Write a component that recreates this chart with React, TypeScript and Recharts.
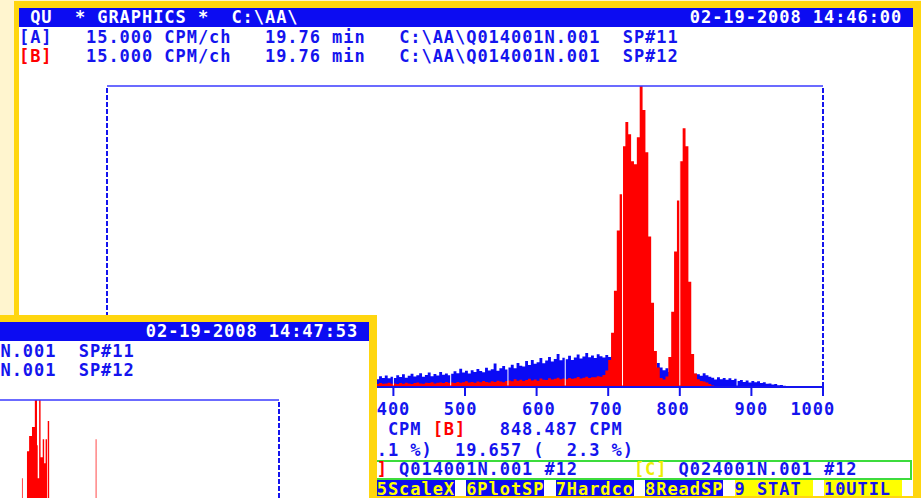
import React from "react";
import { ComposedChart, Area, XAxis, YAxis, ReferenceLine } from "recharts";

const W = 921;
const H = 498;

// DOS text grid (80 columns) starting at the window's inner left edge
const GRID_X = 19;
const CHAR_W = 11.18;
const FONT = '"DejaVu Sans Mono", "Liberation Mono", monospace';
const FONT_SIZE = 17;
const LETTER_SP = CHAR_W - FONT_SIZE * 0.602;

const PLOT_LEFT = 107;
const PLOT_RIGHT = 823;
const PLOT_TOP = 86;
const PLOT_BOTTOM = 387;
const AXIS_H = 30;

const BLUE = "#1414EE";
const PLOT_BLUE = "#0A0AF5";
const TITLE_BLUE = "#0C0CF2";
const RED = "#FF0000";
const GOLD = "#FFD60F";
const CREAM = "#FFF5CF";
const YELLOW = "#FFFF00";
const GREEN = "#3CDC3C";

// main spectra, % of full scale, bins of 4 channels from channel 360
const BIN_START = 360;
const BIN_WIDTH = 4;

const COUNTS_A = [
  3.0, 3.4, 2.7, 3.2, 2.6, 3.6, 3.0, 3.8, 2.9, 3.4, // 360
  3.0, 3.9, 3.3, 4.2, 3.1, 3.7, 4.4, 3.5, 3.9, 4.6, // 400
  3.4, 4.0, 4.8, 3.6, 4.3, 3.8, 5.0, 4.1, 4.5, 3.9, // 440
  4.4, 5.2, 4.6, 6.1, 4.8, 5.4, 4.5, 5.6, 5.0, 6.0, // 480
  5.3, 4.9, 6.4, 5.5, 5.9, 7.8, 5.4, 6.2, 7.0, 5.8, // 520
  6.5, 7.4, 6.2, 8.0, 7.1, 6.8, 8.6, 7.3, 9.0, 7.7, // 560
  8.2, 9.6, 7.9, 8.8, 10.0, 8.5, 9.3, 11.0, 8.9, 9.7, // 600
  9.2, 10.4, 9.0, 9.8, 10.8, 9.5, 10.1, 11.3, 9.9, 10.5, // 640
  9.6, 10.9, 10.2, 9.8, 10.6, 10.0, 10.3, 9.7, 10.0, 9.5, // 680
  9.2, 9.0, 8.8, 8.5, 8.4, 8.0, 7.8, 7.5, 7.2, 7.0, // 720
  6.6, 6.0, 8.0, 6.5, 5.6, 6.2, 5.0, 5.2, 5.0, 4.9, // 760
  5.0, 4.8, 4.8, 4.6, 4.5, 4.4, 4.2, 3.7, 4.6, 3.9, // 800
  3.4, 3.1, 2.5, 3.2, 2.6, 3.0, 2.4, 2.9, 2.3, 2.7, // 840
  2.0, 2.3, 1.7, 2.2, 1.5, 2.0, 1.6, 1.9, 1.3, 1.6, // 880
  1.1, 1.2, 0.8, 1.0, 0.6, 0.7, 0.4, 0, 0, 0, // 920
  0, 0, 0, 0, 0, 0, 0, 0, 0, 0, // 960
];

const COUNTS_B = [
  1.1, 1.3, 1.0, 1.2, 1.0, 1.3, 1.1, 1.2, 1.4, 1.1, // 360
  1.2, 1.0, 1.3, 1.1, 1.4, 1.2, 1.0, 1.3, 1.5, 1.2, // 400
  1.1, 1.4, 1.3, 1.6, 1.2, 1.4, 1.5, 1.3, 1.7, 1.4, // 440
  1.5, 1.3, 1.7, 1.4, 1.6, 1.9, 1.5, 1.7, 1.4, 1.8, // 480
  1.6, 2.0, 1.7, 1.5, 1.9, 1.7, 2.1, 1.8, 1.6, 2.0, // 520
  2.2, 1.9, 2.6, 2.1, 2.4, 2.0, 2.3, 2.7, 2.2, 2.5, // 560
  2.1, 2.8, 2.4, 2.3, 2.9, 2.5, 2.7, 3.1, 2.6, 2.8, // 600
  2.6, 3.0, 2.7, 2.9, 3.3, 2.8, 3.1, 3.4, 3.0, 3.2, // 640
  3.2, 3.6, 3.4, 4.0, 5.5, 9.0, 18, 32, 52, 64, // 680
  80, 88, 84, 75, 74, 83, 100, 92, 78, 50, // 720
  28, 12, 6.5, 3.0, 2.5, 3.5, 10, 25, 45, 62, // 760
  75, 86, 80, 35, 11, 4.5, 2.6, 2.0, 1.8, 1.5, // 800
  1.0, 0.5, 0, 0, 0, 0, 0, 0, 0, 0, // 840
  0, 0, 0, 0, 0, 0, 0, 0, 0, 0, // 880
  0, 0, 0, 0, 0, 0, 0, 0, 0, 0, // 920
  0, 0, 0, 0, 0, 0, 0, 0, 0, 0, // 960
];

// second (later) window, spectrum B only
const INSET_CHANNELS = [600, 641, 642, 648, 651, 655, 659, 662, 663, 665, 667, 670, 672, 674, 676, 677, 679, 744, 745, 1000];
const INSET_COUNTS_B = [0, 74, 0, 83, 88, 91, 105, 85, 74, 105, 81, 87, 79, 87, 0, 93, 0, 87, 0, 0];

const TICKS = [0, 100, 200, 300, 400, 500, 600, 700, 800, 900, 1000];
const GAP_CHANNELS = [400, 480, 560, 640, 720, 800, 880];

const FKEYS = ["5ScaleX", "6PlotSP", "7Hardco", "8ReadSP", "9 STAT", "10UTIL"];
const FKEY_COLS = [32, 40, 48, 56, 64, 72];

const mainData = COUNTS_A.map((a, i) => ({ ch: BIN_START + i * BIN_WIDTH, a, b: COUNTS_B[i] }));
mainData.push({ ch: 1000, a: 0, b: 0 });
const insetData = INSET_CHANNELS.map((ch, i) => ({ ch, b: INSET_COUNTS_B[i] }));

const textStyle = {
  position: "absolute" as const,
  whiteSpace: "pre" as const,
  fontFamily: FONT,
  fontWeight: "bold" as const,
  fontSize: FONT_SIZE,
  letterSpacing: LETTER_SP,
};

function Txt({ col, cy, color = BLUE, children }: any) {
  return (
    <div style={{ ...textStyle, left: GRID_X + col * CHAR_W, top: cy - 9.2, color, lineHeight: "19px" }}>
      {children}
    </div>
  );
}

// tick labels snap to the text grid like the DOS program does
function GridTick(props: any) {
  const { x, y, payload } = props;
  const label = String(payload.value);
  const col = Math.round((x - GRID_X) / CHAR_W - 1.7) - (label.length - 3);
  return (
    <text
      x={GRID_X + col * CHAR_W}
      y={y + 17}
      fill={BLUE}
      fontFamily={FONT}
      fontWeight="bold"
      fontSize={FONT_SIZE}
      style={{ letterSpacing: LETTER_SP }}
    >
      {label}
    </text>
  );
}

function Spectrum({ data, series, gaps }: any) {
  return (
    <ComposedChart
      width={W}
      height={H}
      data={data}
      margin={{ top: PLOT_TOP, left: PLOT_LEFT, right: W - PLOT_RIGHT, bottom: H - PLOT_BOTTOM - AXIS_H }}
    >
      <XAxis
        type="number"
        dataKey="ch"
        domain={[0, 1000]}
        ticks={TICKS}
        interval={0}
        height={AXIS_H}
        axisLine={{ stroke: BLUE, strokeWidth: 2 }}
        tickLine={{ stroke: BLUE, strokeWidth: 2 }}
        tickSize={9}
        tickMargin={2}
        tick={(p: any) => <GridTick {...p} />}
        allowDataOverflow
      />
      <YAxis hide domain={[0, 100]} allowDataOverflow />
      {series.map((s: any) => (
        <Area
          key={s.key}
          dataKey={s.key}
          type="stepAfter"
          fill={s.color}
          fillOpacity={1}
          stroke="none"
          dot={false}
          activeDot={false}
          isAnimationActive={false}
        />
      ))}
      {gaps.map((ch: number) => (
        <ReferenceLine
          key={ch}
          segment={[
            { x: ch, y: 0.5 },
            { x: ch, y: 99 },
          ]}
          stroke="#ffffff"
          strokeWidth={1}
        />
      ))}
      <ReferenceLine y={100} stroke="#3A3AFF" strokeWidth={1.5} />
      <ReferenceLine x={0} stroke={BLUE} strokeWidth={2} strokeDasharray="5 2" />
      <ReferenceLine x={1000} stroke={BLUE} strokeWidth={2} strokeDasharray="5 2" />
    </ComposedChart>
  );
}

function Footer() {
  return (
    <>
      <Txt col={33} cy={429}>CPM</Txt>
      <Txt col={37} cy={429} color={RED}>[B]</Txt>
      <Txt col={43} cy={429}>848.487 CPM</Txt>
      <Txt col={32} cy={450}>{".1 %)  19.657 (  2.3 %)"}</Txt>
      <div
        style={{
          position: "absolute",
          left: 300,
          top: 460,
          width: 612,
          height: 20,
          border: `2px solid ${GREEN}`,
          boxSizing: "border-box",
        }}
      />
      <Txt col={30} cy={469.5} color={RED}>[B]</Txt>
      <Txt col={34} cy={469.5}>Q014001N.001 #12</Txt>
      <Txt col={55} cy={469.5} color="#EDED00">[C]</Txt>
      <Txt col={59} cy={469.5}>Q024001N.001 #12</Txt>
      {FKEYS.map((k, i) => {
        const dark = i < 4;
        return (
          <div
            key={k}
            style={{
              position: "absolute",
              left: GRID_X + FKEY_COLS[i] * CHAR_W,
              top: 480,
              width: 7 * CHAR_W,
              height: 16,
              background: dark ? TITLE_BLUE : YELLOW,
            }}
          >
            <div style={{ ...textStyle, left: 0, top: 0.5, color: dark ? YELLOW : BLUE, lineHeight: "16px" }}>{k}</div>
          </div>
        );
      })}
    </>
  );
}

function Window({ dx, dy, stamp, data, series, gaps, footer }: any) {
  return (
    <div style={{ position: "absolute", left: dx, top: dy, width: W, height: H }}>
      <div style={{ position: "absolute", left: 14, top: 1, width: 907, height: 497, background: GOLD }} />
      <div style={{ position: "absolute", left: 19, top: 8, width: 894, height: 488, background: "#ffffff" }} />
      <div style={{ position: "absolute", left: 19, top: 8, width: 894, height: 19, background: TITLE_BLUE }} />
      <Txt col={1} cy={17} color="#ffffff">{"QU  * GRAPHICS *  C:\\AA\\"}</Txt>
      <Txt col={60} cy={17} color="#ffffff">{stamp}</Txt>
      <Txt col={0} cy={37}>[A]</Txt>
      <Txt col={6} cy={37}>{"15.000 CPM/ch   19.76 min   C:\\AA\\Q014001N.001  SP#11"}</Txt>
      <Txt col={0} cy={56} color={RED}>[B]</Txt>
      <Txt col={6} cy={56}>{"15.000 CPM/ch   19.76 min   C:\\AA\\Q014001N.001  SP#12"}</Txt>
      <div style={{ position: "absolute", left: 0, top: 0 }}>
        <Spectrum data={data} series={series} gaps={gaps} />
      </div>
      {footer && <Footer />}
    </div>
  );
}

export default function App() {
  return (
    <div
      style={{
        position: "fixed",
        left: 0,
        top: 0,
        width: W,
        height: H,
        overflow: "hidden",
        background: CREAM,
      }}
    >
      <Window
        dx={0}
        dy={0}
        stamp="02-19-2008 14:46:00"
        data={mainData}
        series={[
          { key: "a", color: PLOT_BLUE },
          { key: "b", color: RED },
        ]}
        gaps={GAP_CHANNELS}
        footer
      />
      <Window
        dx={-544}
        dy={314}
        stamp="02-19-2008 14:47:53"
        data={insetData}
        series={[{ key: "b", color: RED }]}
        gaps={[]}
        footer={false}
      />
    </div>
  );
}
